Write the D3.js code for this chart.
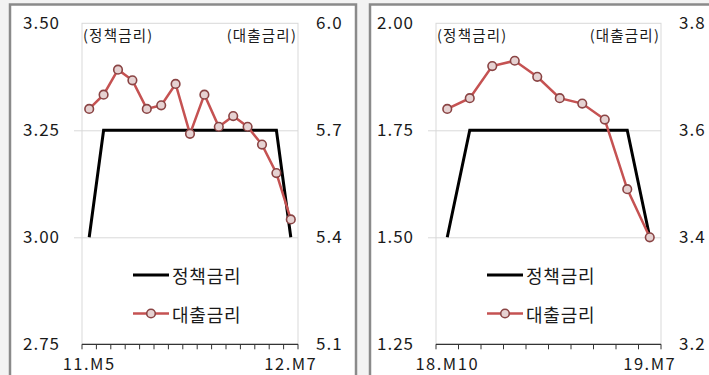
<!DOCTYPE html>
<html>
<head>
<meta charset="utf-8">
<script src="https://cdn.jsdelivr.net/npm/d3@7"></script>
<style>
  html, body { margin: 0; padding: 0; background: #f3f3f3; }
  svg { display: block; }
  text { font-family: "Noto Sans CJK KR", "Noto Sans", sans-serif; fill: #1a1a1a; }
</style>
</head>
<body>
<svg id="chart" width="709" height="375"></svg>
<script>
// 2011-2012 tightening period
const monthsA = ["11.M5","11.M6","11.M7","11.M8","11.M9","11.M10","11.M11","11.M12",
                 "12.M1","12.M2","12.M3","12.M4","12.M5","12.M6","12.M7"];
const policyA = [3.00,3.25,3.25,3.25,3.25,3.25,3.25,3.25,3.25,3.25,3.25,3.25,3.25,3.25,3.00];
const loanA   = [5.76,5.80,5.87,5.84,5.76,5.77,5.83,5.69,5.80,5.71,5.74,5.71,5.66,5.58,5.45];
const leftTicksA  = [2.75,3.00,3.25,3.50];
const rightTicksA = [5.1,5.4,5.7,6.0];

// 2018-2019 period
const monthsB = ["18.M10","18.M11","18.M12","19.M1","19.M2","19.M3","19.M4","19.M5","19.M6","19.M7"];
const policyB = [1.50,1.75,1.75,1.75,1.75,1.75,1.75,1.75,1.75,1.50];
const loanB   = [3.64,3.66,3.72,3.73,3.70,3.66,3.65,3.62,3.49,3.40];
const leftTicksB  = [1.25,1.50,1.75,2.00];
const rightTicksB = [3.2,3.4,3.6,3.8];

const seriesNames = ["정책금리","대출금리"];

const svg = d3.select("#chart");

function panel(cfg) {
  const g = svg.append("g");
  // outer frame
  g.append("rect")
    .attr("x", cfg.frame[0]).attr("y", 4.5)
    .attr("width", cfg.frame[1] - cfg.frame[0]).attr("height", 400)
    .attr("fill", "#fff").attr("stroke", "#8a8a8a").attr("stroke-width", 2.5);

  const top = 23.3, bottom = 344.3;
  const x = d3.scaleBand().domain(cfg.months).range([cfg.x0, cfg.x1]);
  const yL = d3.scaleLinear().domain(d3.extent(cfg.leftTicks)).range([bottom, top]);
  const yR = d3.scaleLinear().domain(d3.extent(cfg.rightTicks)).range([bottom, top]);

  // plot area border
  g.append("rect")
    .attr("x", cfg.x0).attr("y", top)
    .attr("width", cfg.x1 - cfg.x0).attr("height", bottom - top)
    .attr("fill", "none").attr("stroke", "#d9d9d9").attr("stroke-width", 1);

  // gridlines + left labels
  const gl = g.append("g").attr("transform", `translate(${cfg.x0},0)`)
    .call(d3.axisLeft(yL).tickValues(cfg.leftTicks).tickFormat(d3.format(".2f"))
      .tickSize(-(cfg.x1 - cfg.x0)).tickPadding(22));
  gl.select(".domain").remove();
  gl.selectAll(".tick line")
    .attr("x1", -8)
    .attr("stroke", d => (d === cfg.leftTicks[0] || d === cfg.leftTicks[3]) ? "none" : "#d9d9d9");
  gl.selectAll(".tick text")
    .style("font-size", "17px").style("letter-spacing", "1px").attr("fill", "#1a1a1a");

  // right labels
  const gr = g.append("g").attr("transform", `translate(${cfg.x1},0)`)
    .call(d3.axisRight(yR).tickValues(cfg.rightTicks).tickFormat(d3.format(".1f"))
      .tickSize(0).tickPadding(18));
  gr.select(".domain").remove();
  gr.selectAll(".tick text")
    .style("font-size", "17px").style("letter-spacing", "1px").attr("fill", "#1a1a1a");

  // category axis
  const step = x.step();
  const bounds = d3.range(cfg.months.length + 1).map(i => cfg.x0 + i * step);
  g.append("line")
    .attr("x1", cfg.x0).attr("x2", cfg.x1).attr("y1", bottom).attr("y2", bottom)
    .attr("stroke", "#333").attr("stroke-width", 1.3);
  g.selectAll(".xt").data(bounds).join("line")
    .attr("x1", d => d).attr("x2", d => d).attr("y1", bottom).attr("y2", bottom + 5)
    .attr("stroke", "#333").attr("stroke-width", 1);
  const ends = [cfg.months[0], cfg.months[cfg.months.length - 1]];
  g.selectAll(".xl").data(ends).join("text")
    .attr("x", d => x(d) + step / 2).attr("y", 370)
    .attr("text-anchor", "middle")
    .style("font-size", "16.5px").style("letter-spacing", "1.5px")
    .text(d => d);

  // axis captions
  g.append("text").attr("x", cfg.x0 + 1).attr("y", 34)
    .attr("dominant-baseline", "central")
    .style("font-size", "14.5px").style("letter-spacing", "1.2px")
    .text("(" + seriesNames[0] + ")");
  g.append("text").attr("x", cfg.x1 - 1).attr("y", 34)
    .attr("text-anchor", "end").attr("dominant-baseline", "central")
    .style("font-size", "14.5px").style("letter-spacing", "1.2px")
    .text("(" + seriesNames[1] + ")");

  const cx = (d, i) => x(cfg.months[i]) + step / 2;

  // policy rate (left axis)
  g.append("path").datum(cfg.policy)
    .attr("d", d3.line().x(cx).y(d => yL(d)))
    .attr("fill", "none").attr("stroke", "#000").attr("stroke-width", 3);

  // loan rate (right axis)
  g.append("path").datum(cfg.loan)
    .attr("d", d3.line().x(cx).y(d => yR(d)))
    .attr("fill", "none").attr("stroke", "#c55252").attr("stroke-width", 2.5);
  g.selectAll(".pt").data(cfg.loan).join("circle")
    .attr("cx", cx).attr("cy", d => yR(d)).attr("r", 4.3)
    .attr("fill", "#e6d2d2").attr("stroke", "#8a4444").attr("stroke-width", 1.6);

  // legend
  const lx = cfg.legendX;
  g.append("line").attr("x1", lx).attr("x2", lx + 36).attr("y1", 275).attr("y2", 275)
    .attr("stroke", "#000").attr("stroke-width", 3);
  g.append("line").attr("x1", lx).attr("x2", lx + 36).attr("y1", 313.5).attr("y2", 313.5)
    .attr("stroke", "#c55252").attr("stroke-width", 2.5);
  g.append("circle").attr("cx", lx + 18).attr("cy", 313.5).attr("r", 4.3)
    .attr("fill", "#e6d2d2").attr("stroke", "#8a4444").attr("stroke-width", 1.6);
  g.selectAll(".lg").data(seriesNames).join("text")
    .attr("x", lx + 39).attr("y", (d, i) => i === 0 ? 275 : 313.5)
    .attr("dominant-baseline", "central")
    .style("font-size", "18px").style("letter-spacing", "0.8px")
    .text(d => d);
}

panel({ frame: [10, 356], x0: 82, x1: 298, months: monthsA, policy: policyA, loan: loanA,
        leftTicks: leftTicksA, rightTicks: rightTicksA, legendX: 133 });
panel({ frame: [370, 760], x0: 436, x1: 661, months: monthsB, policy: policyB, loan: loanB,
        leftTicks: leftTicksB, rightTicks: rightTicksB, legendX: 487 });
</script>
</body>
</html>
